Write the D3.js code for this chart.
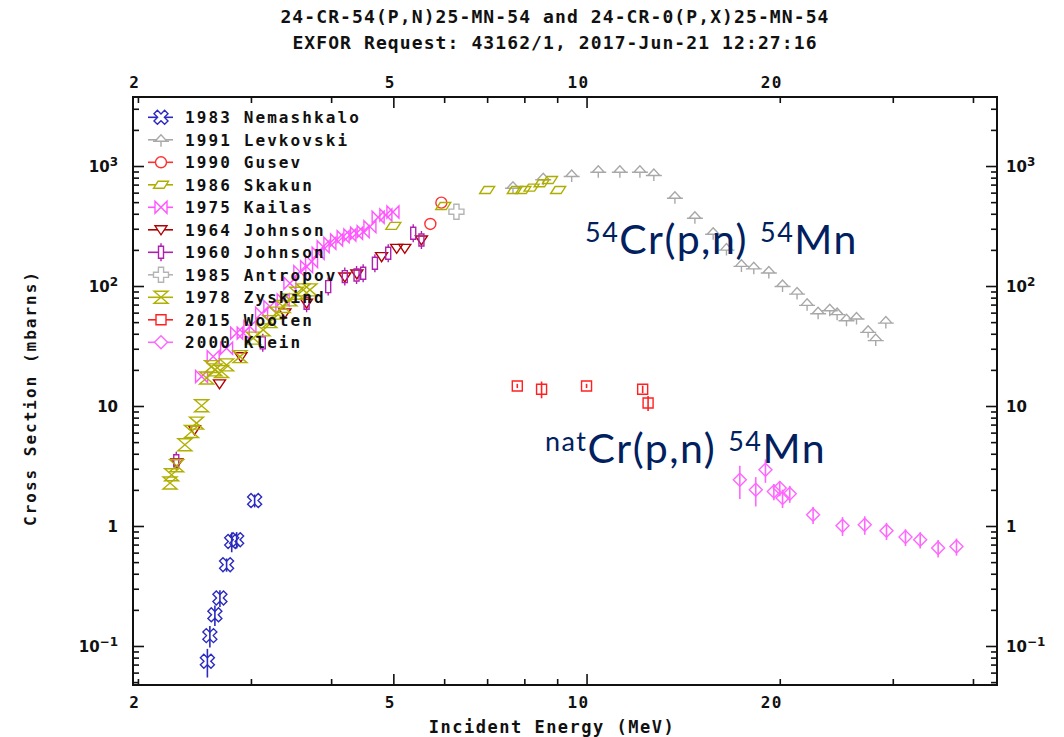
<!DOCTYPE html>
<html>
<head>
<meta charset="utf-8">
<script src="https://cdn.jsdelivr.net/npm/d3@7"></script>
<style>
  html, body { margin: 0; padding: 0; background: #ffffff; }
  svg { display: block; }
</style>
</head>
<body>
<svg id="chart" width="1064" height="737"></svg>
<script>
// ---------- data: incident energy (MeV), cross section (mb), error (mb) ----------
const nemashkaloE   = [2.566, 2.589, 2.636, 2.684, 2.749, 2.80, 2.85, 3.04];
const nemashkaloXS  = [0.0746, 0.122, 0.182, 0.2515, 0.476, 0.744, 0.769, 1.63];
const nemashkaloErr = [0.02, 0.025, 0.035, 0.04, 0.06, 0.14, 0.12, 0.2];

const levkovskiE  = [7.68, 8.56, 9.48, 10.43, 11.27, 12.11, 12.73, 13.73, 14.75, 15.75, 16.52, 17.43, 18.22, 19.23, 20.2, 21.28, 22.06, 22.95, 23.93, 24.57, 25.41, 26.34, 27.46, 28.22, 29.26];
const levkovskiXS = [672, 790, 841, 914, 914, 914, 858, 555, 378, 278, 205, 150, 143, 132, 102, 88.1, 71, 60.5, 64.1, 59.4, 52.9, 54.6, 42.3, 36.1, 50.5];

const gusevE  = [5.71, 5.94];
const gusevXS = [329, 495];

const skakunE  = [5.0, 5.98, 7.0, 7.73, 7.97, 8.21, 8.51, 8.77, 9.03];
const skakunXS = [317, 464, 631, 631, 631, 660, 718, 764, 631];

const kailasE  = [2.513, 2.62, 2.749, 2.85, 2.918, 2.989, 3.117, 3.211, 3.368, 3.45, 3.575, 3.663, 3.729, 3.818, 3.887, 3.982, 4.079, 4.176, 4.278, 4.382, 4.487, 4.597, 4.735, 4.868, 4.993];
const kailasXS = [17.6, 25.8, 30.3, 40.5, 40.5, 45.9, 59.4, 67.4, 76.6, 105.5, 131.8, 145, 159.7, 187.5, 212.8, 227.2, 242, 257.8, 266.4, 275.2, 283.8, 312.3, 374, 391, 414];

const johnson64E  = [2.30, 2.45, 2.68, 2.894, 3.389, 3.663, 4.201, 4.387, 4.794, 5.06, 5.21, 5.53];
const johnson64XS = [3.35, 6.34, 15.3, 25.7, 59.7, 71.9, 119, 126, 175.7, 206, 206, 242];

const johnson60E  = [2.295, 3.13, 3.663, 3.958, 4.201, 4.382, 4.487, 4.68, 4.909, 5.37, 5.53];
const johnson60XS = [3.5, 33.6, 71.9, 98.9, 119.8, 123.7, 127.8, 154.9, 187.6, 275, 242];

const antropovE  = [6.27];
const antropovXS = [416];

const zyskindE  = [2.244, 2.257, 2.298, 2.367, 2.424, 2.468, 2.513, 2.559, 2.605, 2.636, 2.70, 2.749, 2.884, 3.025, 3.134, 3.211, 3.289, 3.368, 3.45, 3.534, 3.619, 3.707];
const zyskindXS = [2.28, 2.67, 3.18, 4.75, 6.13, 7.2, 10.04, 17.1, 21.3, 20.0, 19.4, 22.0, 25.8, 36.8, 43.1, 50.5, 59.4, 67.4, 76.6, 87.1, 92.8, 92.8];

const wootenE   = [7.80, 8.51, 10.0, 12.23, 12.47];
const wootenXS  = [14.7, 13.8, 14.7, 13.8, 10.6];
const wootenErr = [0.6, 2.2, 0.6, 1.0, 1.5];

const kleinE   = [17.33, 18.35, 19.0, 19.58, 20.0, 20.2, 20.73, 22.54, 25.05, 27.13, 29.33, 31.4, 33.1, 35.3, 37.7];
const kleinXS  = [2.43, 2.005, 2.94, 1.94, 2.07, 1.71, 1.86, 1.24, 1.006, 1.025, 0.914, 0.81, 0.769, 0.656, 0.676];
const kleinErr = [0.75, 0.55, 0.65, 0.3, 0.3, 0.3, 0.3, 0.2, 0.18, 0.18, 0.15, 0.13, 0.12, 0.11, 0.11];

// axis ticks
const xTickValues  = [2, 3, 4, 5, 6, 7, 8, 9, 10, 20, 30, 40];
const xLongTicks   = [5, 10];
const xTickLabels  = [2, 5, 10, 20];
const yMajorTicks  = [0.1, 1, 10, 100, 1000];
const yTickLabels  = [["10", "\u22121"], ["1", ""], ["10", ""], ["10", "2"], ["10", "3"]];

const titleLines = [
  "24-CR-54(P,N)25-MN-54 and 24-CR-0(P,X)25-MN-54",
  "EXFOR Request: 43162/1, 2017-Jun-21 12:27:16"
];

// ---------- series table ----------
const series = [
  { name: "1983 Nemashkalo", E: nemashkaloE, XS: nemashkaloXS, err: nemashkaloErr, color: "#2b2bc0", sym: "xcross" },
  { name: "1991 Levkovski",  E: levkovskiE,  XS: levkovskiXS,  color: "#a8a8a8", sym: "tree" },
  { name: "1990 Gusev",      E: gusevE,      XS: gusevXS,      color: "#ff3030", sym: "circle" },
  { name: "1986 Skakun",     E: skakunE,     XS: skakunXS,     color: "#adad00", sym: "para" },
  { name: "1975 Kailas",     E: kailasE,     XS: kailasXS,     color: "#ff55ff", sym: "bowtie" },
  { name: "1964 Johnson",    E: johnson64E,  XS: johnson64XS,  color: "#b00000", sym: "tridown" },
  { name: "1960 Johnson",    E: johnson60E,  XS: johnson60XS,  color: "#b020b0", sym: "bar" },
  { name: "1985 Antropov",   E: antropovE,   XS: antropovXS,   color: "#b4b4b4", sym: "plus" },
  { name: "1978 Zyskind",    E: zyskindE,    XS: zyskindXS,    color: "#b0b000", sym: "hourglass" },
  { name: "2015 Wooten",     E: wootenE,     XS: wootenXS,     err: wootenErr, color: "#ff2020", sym: "square" },
  { name: "2000 Klein",      E: kleinE,      XS: kleinXS,      err: kleinErr,  color: "#ff66ff", sym: "diamond" }
];

// ---------- marker outlines ----------
function rot45(pts) {
  const c = Math.SQRT1_2;
  return pts.map(([px, py]) => [(px - py) * c, (px + py) * c]);
}
function poly(pts) {
  return "M" + pts.map(p => p[0].toFixed(2) + "," + p[1].toFixed(2)).join("L") + "Z";
}
function plusPts(a, b) {
  return [[-a,-b],[a,-b],[a,-a],[b,-a],[b,a],[a,a],[a,b],[-a,b],[-a,a],[-b,a],[-b,-a],[-a,-a]];
}
const symbolPaths = {
  xcross:   poly(rot45(plusPts(2.4, 7.5))),
  tree:     "M-6,1.5L0,-5L6,1.5Z M-8,1.5H8 M0,1.5V7",
  circle:   "M5.5,0A5.5,5.5 0 1,1 -5.5,0A5.5,5.5 0 1,1 5.5,0Z",
  para:     "M-7.5,3.5L-3,-3.5L7.5,-3.5L3,3.5Z",
  bowtie:   "M-6,-6L-6,6L6,-6L6,6Z",
  tridown:  "M-6,-4L6,-4L0,5Z",
  bar:      "M-2.5,-6H2.5V6H-2.5Z M0,-9V-6 M0,6V9",
  plus:     poly(plusPts(2.6, 7.5)),
  hourglass:"M-7,-6L7,-6L-7,6L7,6Z",
  square:   "M-5,-5H5V5H-5Z",
  diamond:  "M0,-6.5L6.5,0L0,6.5L-6.5,0Z"
};

// ---------- layout ----------
const svg = d3.select("#chart");
const frame = { left: 133, right: 997, top: 97, bottom: 685 };
const x = d3.scaleLog().domain([1.965, 43.6]).range([frame.left, frame.right]);
const y = d3.scaleLog().domain([0.0473, 3760]).range([frame.bottom, frame.top]);

const monoBold = "'DejaVu Sans Mono', 'Liberation Mono', monospace";

svg.append("rect").attr("width", 1064).attr("height", 737).attr("fill", "#ffffff");

// titles
svg.selectAll("text.title").data(titleLines).join("text")
  .attr("class", "title")
  .attr("x", 555).attr("y", (d, i) => 23 + i * 26)
  .attr("text-anchor", "middle")
  .attr("font-family", monoBold).attr("font-size", 18).attr("font-weight", "bold")
  .attr("letter-spacing", 1.1)
  .attr("fill", "#111")
  .text(d => d);

// ---------- axes (ticks point inward on all four sides) ----------
const yMinor = [];
for (let k = -2; k <= 3; k++) for (let m = 1; m <= 9; m++) {
  const v = m * Math.pow(10, k);
  if (v >= 0.0473 && v <= 3760) yMinor.push(v);
}
function styleAxis(g) {
  g.select(".domain").remove();
  g.selectAll(".tick line").attr("stroke", "#111").attr("stroke-width", 1.6);
}
const xShort = xTickValues.filter(v => !xLongTicks.includes(v));
[[d3.axisTop, frame.bottom], [d3.axisBottom, frame.top]].forEach(([ax, ty]) => {
  svg.append("g").attr("transform", `translate(0,${ty})`)
    .call(ax(x).tickValues(xShort).tickSize(6).tickFormat("")).call(styleAxis);
  svg.append("g").attr("transform", `translate(0,${ty})`)
    .call(ax(x).tickValues(xLongTicks).tickSize(11).tickFormat("")).call(styleAxis);
});
const yShort = yMinor.filter(v => !yMajorTicks.some(m => Math.abs(m - v) / m < 1e-6));
[[d3.axisRight, frame.left], [d3.axisLeft, frame.right]].forEach(([ax, tx]) => {
  svg.append("g").attr("transform", `translate(${tx},0)`)
    .call(ax(y).tickValues(yShort).tickSize(6).tickFormat("")).call(styleAxis);
  svg.append("g").attr("transform", `translate(${tx},0)`)
    .call(ax(y).tickValues(yMajorTicks).tickSize(11).tickFormat("")).call(styleAxis);
});

// energy labels, top and bottom
[frame.top - 9, frame.bottom + 23].forEach(ty => {
  svg.append("g").selectAll("text").data(xTickLabels).join("text")
    .attr("x", d => x(d) - (String(d).length > 1 ? 8 : 3))
    .attr("y", ty)
    .attr("text-anchor", "middle")
    .attr("font-family", monoBold).attr("font-size", 16).attr("font-weight", "bold")
    .attr("letter-spacing", 1.5)
    .attr("fill", "#111")
    .text(d => d);
});

// cross-section labels with exponents, left and right
function yLabel(g, anchorX, anchor) {
  const t = g.selectAll("text").data(yMajorTicks).join("text")
    .attr("x", anchorX).attr("y", d => y(d) + 6)
    .attr("text-anchor", anchor)
    .attr("font-family", "'DejaVu Sans', sans-serif").attr("font-size", 15).attr("font-weight", "bold")
    .attr("fill", "#111");
  t.append("tspan").text((d, i) => yTickLabels[i][0]);
  t.append("tspan").attr("dy", -6).attr("font-size", 12)
    .text((d, i) => yTickLabels[i][1]);
}
yLabel(svg.append("g"), 118, "end");
yLabel(svg.append("g"), 1006, "start");

// axis titles
svg.append("text")
  .attr("x", 552).attr("y", 733)
  .attr("text-anchor", "middle")
  .attr("font-family", monoBold).attr("font-size", 17).attr("font-weight", "bold")
  .attr("letter-spacing", 1.5)
  .attr("fill", "#111")
  .text("Incident Energy (MeV)");
svg.append("text")
  .attr("transform", "translate(36,398) rotate(-90)")
  .attr("text-anchor", "middle")
  .attr("font-family", monoBold).attr("font-size", 16).attr("font-weight", "bold")
  .attr("letter-spacing", 2)
  .attr("fill", "#111")
  .text("Cross Section (mbarns)");

// ---------- data marks ----------
const marks = svg.append("g").attr("clip-path", "url(#plotClip)");
svg.append("clipPath").attr("id", "plotClip").append("rect")
  .attr("x", frame.left).attr("y", frame.top)
  .attr("width", frame.right - frame.left).attr("height", frame.bottom - frame.top);

series.forEach(s => {
  const pts = s.E.map((e, i) => ({ e, v: s.XS[i], err: s.err ? s.err[i] : 0 }));
  const g = marks.append("g");
  g.selectAll("line.err").data(pts.filter(p => p.err > 0)).join("line")
    .attr("class", "err")
    .attr("x1", p => x(p.e)).attr("x2", p => x(p.e))
    .attr("y1", p => y(p.v + p.err)).attr("y2", p => y(Math.max(p.v - p.err, 1e-3)))
    .attr("stroke", s.color).attr("stroke-width", 1.6);
  g.selectAll("path").data(pts).join("path")
    .attr("transform", p => `translate(${x(p.e)},${y(p.v)})`)
    .attr("d", symbolPaths[s.sym])
    .attr("fill", "#ffffff").attr("fill-opacity", 0)
    .attr("stroke", s.color).attr("stroke-width", 1.4);
});

// frame
svg.append("rect")
  .attr("x", frame.left).attr("y", frame.top)
  .attr("width", frame.right - frame.left).attr("height", frame.bottom - frame.top)
  .attr("fill", "none").attr("stroke", "#111").attr("stroke-width", 2);

// ---------- legend ----------
const legend = svg.append("g");
const leg = legend.selectAll("g").data(series).join("g")
  .attr("transform", (d, i) => `translate(161,${117.3 + i * 22.5})`);
leg.append("line").attr("x1", -13).attr("x2", 12)
  .attr("stroke", d => d.color).attr("stroke-width", 1.6);
leg.append("path").attr("d", d => symbolPaths[d.sym])
  .attr("fill", "#ffffff").attr("stroke", d => d.color).attr("stroke-width", 1.4);
leg.append("text")
  .attr("x", 24).attr("y", 6)
  .attr("font-family", monoBold).attr("font-size", 16).attr("font-weight", "bold")
  .attr("letter-spacing", 2.1)
  .attr("fill", "#111")
  .text(d => d.name);

// ---------- reaction annotations ----------
function reaction(xp, yp, pre, post) {
  const t = svg.append("text").attr("x", xp).attr("y", yp)
    .attr("font-family", "Lato, 'Open Sans', sans-serif").attr("font-size", 41)
    .attr("letter-spacing", 1.5)
    .attr("fill", "#002060");
  t.append("tspan").attr("font-size", 27).attr("dy", -12).text(pre);
  t.append("tspan").attr("dy", 12).text("Cr(p,n) ");
  t.append("tspan").attr("font-size", 27).attr("dy", -12).text(post);
  t.append("tspan").attr("dy", 12).text("Mn");
}
reaction(585, 254, "54", "54");
reaction(545, 463, "nat", "54");
</script>
</body>
</html>
